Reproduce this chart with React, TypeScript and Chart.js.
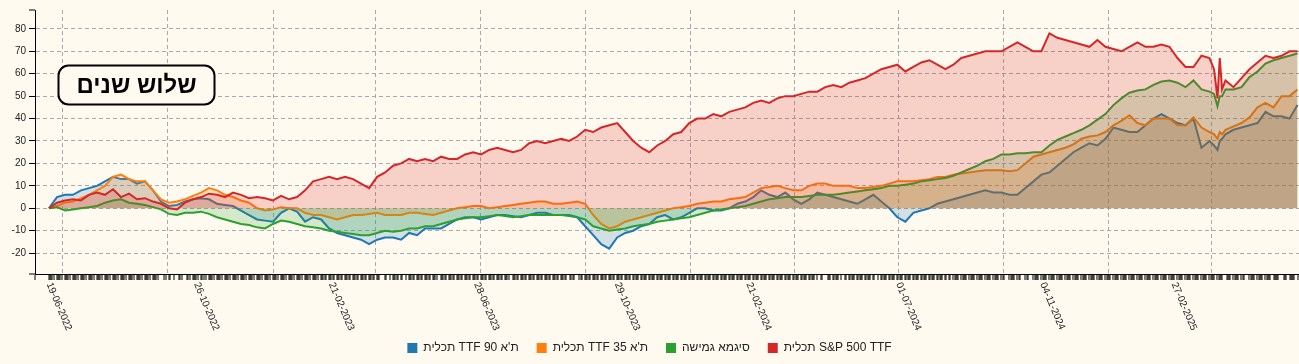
import React, { useEffect, useRef } from 'react';
import { Chart, registerables } from 'chart.js';

Chart.register(...registerables);

// ---------- data ----------
const DATES = [
  '2022-06-19','2022-06-26','2022-07-03','2022-07-10','2022-07-17','2022-07-24','2022-07-31','2022-08-07','2022-08-14','2022-08-21',
  '2022-08-28','2022-09-04','2022-09-11','2022-09-18','2022-09-25','2022-10-02','2022-10-09','2022-10-16','2022-10-23','2022-10-30',
  '2022-11-06','2022-11-13','2022-11-20','2022-11-27','2022-12-04','2022-12-11','2022-12-18','2022-12-25','2023-01-01','2023-01-08',
  '2023-01-15','2023-01-22','2023-01-29','2023-02-05','2023-02-12','2023-02-19','2023-02-26','2023-03-05','2023-03-12','2023-03-19',
  '2023-03-26','2023-04-02','2023-04-09','2023-04-16','2023-04-23','2023-04-30','2023-05-07','2023-05-14','2023-05-21','2023-05-28',
  '2023-06-04','2023-06-11','2023-06-18','2023-06-25','2023-07-02','2023-07-09','2023-07-16','2023-07-23','2023-07-30','2023-08-06',
  '2023-08-13','2023-08-20','2023-08-27','2023-09-03','2023-09-10','2023-09-17','2023-09-24','2023-10-01','2023-10-08','2023-10-15',
  '2023-10-22','2023-10-29','2023-11-05','2023-11-12','2023-11-19','2023-11-26','2023-12-03','2023-12-10','2023-12-17','2023-12-24',
  '2023-12-31','2024-01-07','2024-01-14','2024-01-21','2024-01-28','2024-02-04','2024-02-11','2024-02-18','2024-02-25','2024-03-03',
  '2024-03-10','2024-03-17','2024-03-24','2024-03-31','2024-04-07','2024-04-14','2024-04-21','2024-04-28','2024-05-05','2024-05-12',
  '2024-05-19','2024-05-26','2024-06-02','2024-06-09','2024-06-16','2024-06-23','2024-06-30','2024-07-07','2024-07-14','2024-07-21',
  '2024-07-28','2024-08-04','2024-08-11','2024-08-18','2024-08-25','2024-09-01','2024-09-08','2024-09-15','2024-09-22','2024-09-29',
  '2024-10-06','2024-10-13','2024-10-20','2024-10-27','2024-11-03','2024-11-10','2024-11-17','2024-11-24','2024-12-01','2024-12-08',
  '2024-12-15','2024-12-22','2024-12-29','2025-01-05','2025-01-12','2025-01-19','2025-01-26','2025-02-02','2025-02-09','2025-02-16',
  '2025-02-23','2025-03-02','2025-03-09','2025-03-16','2025-03-23','2025-03-30',
  '2025-04-03','2025-04-06','2025-04-08','2025-04-10',
  '2025-04-13','2025-04-20','2025-04-27','2025-05-04','2025-05-11','2025-05-18','2025-05-25','2025-06-01','2025-06-08','2025-06-15',
];

const SP500 = [
  0, 2.5, 3.5, 4, 3.5, 6, 7, 6, 8.5, 5,
  6.5, 4, 4.5, 3, 2, 0, -0.5, 2.5, 4, 5,
  6.5, 6, 5, 7, 6, 4.5, 5, 4.5, 3.5, 5.5,
  4, 5, 8, 12, 13, 14, 13, 14, 13, 11,
  9, 14, 16, 19, 20, 22, 21, 22, 21, 23,
  22, 22, 24, 25, 24, 26, 27, 26, 25, 26,
  29, 30, 29, 30, 31, 30, 32, 35, 34, 36,
  37, 38, 34, 30, 27, 25, 28, 30, 33, 34,
  38, 40, 40, 42, 41, 43, 44, 45, 47, 48,
  47, 49, 50, 50, 51, 52, 52, 54, 55, 54,
  56, 57, 58, 60, 62, 63, 64, 61, 63, 65,
  66, 64, 62, 64, 67, 68, 69, 70, 70, 70,
  72, 74, 72, 70, 70, 78, 76, 75, 74, 73,
  72, 75, 72, 71, 70, 72, 74, 72, 72, 73,
  72, 67, 63, 63, 68, 67,
  62, 49, 67, 53,
  57, 54, 58, 62, 65, 68, 67, 68, 70, 70,
];

const SIGMA = [
  0, 0.5, -1, -0.5, 0, 0.5, 1, 2.5, 3.5, 4,
  2.5, 2, 1.5, 0.5, -0.5, -2.5, -3, -2, -2, -1.5,
  -2.5, -4, -5, -6, -7, -7.5, -8.5, -9, -7, -5.5,
  -6, -7, -8, -8.5, -9, -10, -10.5, -11, -11.5, -12,
  -12, -11, -10, -10.5, -10, -9, -9, -8, -8, -7,
  -6, -5, -4.5, -4, -4, -3.5, -3, -3.5, -4, -3.5,
  -3, -3, -3, -3, -3, -3.5, -4, -5, -8, -9,
  -10, -9.5, -9, -8, -7.5, -7, -6, -5.5, -5, -4.5,
  -4, -3, -2, -1, -0.5, 0, 0.5, 1, 2, 3,
  4, 4.5, 5, 5, 5, 5.5, 6, 6, 6, 6.5,
  7, 7.5, 8, 8.5, 9, 10, 10, 10.5, 11, 12,
  12.5, 13, 13.5, 14.5, 16, 17.5, 19, 21, 22, 24,
  24, 24.5, 24.5, 25, 25, 28, 30.5, 32, 33.5, 35,
  37, 39.5, 42, 46, 49, 51.5, 52.5, 53, 55, 56.5,
  57, 56, 54, 57, 53, 52,
  51, 45.5, 50, 50,
  53, 53, 54, 58.5, 61, 64.5, 66, 67, 68, 69,
];

const TA35 = [
  0, 1, 2.5, 3, 4.5, 6, 8, 10, 14, 15,
  13, 12, 12, 8, 4, 2.5, 3, 4, 5.5, 7,
  9, 8, 6, 5, 3.5, 2.5, 0, -1, -0.5, 0.5,
  0, 0, -2, -3, -3, -4, -5, -4, -3, -3,
  -2.5, -2, -3, -3, -3, -2, -2, -2.5, -3, -2,
  -1, 0, 0.5, 1, 1, 0, 0.5, 1, 1.5, 2,
  2.5, 3, 3, 2, 2, 2.5, 3, 2, -3, -7,
  -9, -8, -6, -5, -4, -3, -2, -1, 0, 0.5,
  1, 2, 2.5, 3, 3, 4, 4.5, 5, 7, 9,
  9.5, 10, 9, 8, 8, 10, 11, 11, 10, 10,
  10, 9, 9, 9.5, 10, 11, 12, 12, 12, 12.5,
  13, 14, 14, 15, 15.5, 16, 16.5, 17, 17, 17,
  16.5, 17, 20, 23, 24, 25, 26, 27, 28.5, 31,
  32, 32.5, 34, 37, 39, 41.5, 38, 37, 40, 40,
  40, 37, 37, 40.5, 36, 34,
  33, 31, 34, 33,
  35, 36.5, 38, 40.5, 45, 47, 45, 50, 50, 53,
];

const TA90 = [
  0, 5, 6, 6, 8, 9, 10, 12, 14, 13,
  13, 11, 12, 8, 3, 1, 1.5, 3, 4, 4.5,
  4, 2, 1.5, 1, -1, -3, -5, -5.5, -6, -2,
  0, -1.5, -6, -4, -5, -9, -11, -12, -13, -14,
  -16, -14, -13, -13, -14, -11, -12, -9, -9, -9,
  -7, -5, -4, -4, -5, -4, -3, -3, -3.5, -4,
  -3, -2, -2, -3, -3, -3, -4, -8, -12, -16,
  -18, -13, -11, -10, -8, -7, -4, -3, -5, -4,
  -2, 0, 0, -1, -1, 0, 2, 3, 5, 8,
  6, 5, 7, 4, 2, 4, 7, 6, 5, 4,
  3, 2, 4, 6, 3, 0, -4, -6, -2, -1,
  0, 2, 3, 4, 5, 6, 7, 8, 7, 7,
  6, 6, 9, 12, 15, 16, 19, 22, 25, 27,
  29, 28, 31, 36, 35, 34, 34, 37, 40, 42,
  40, 38, 37, 40, 27, 30,
  28, 26, 30, 31,
  33, 35, 36, 37, 38, 43, 41, 41, 40, 46,
];

const SERIES_NAMES = ['תכלית S&P 500 TTF', 'סיגמא גמישה', "תכלית TTF 35 ת'א", "תכלית TTF 90 ת'א"];
const SERIES_COLORS = ['#d62728', '#2ca02c', '#ff7f0e', '#1f77b4'];
const SERIES_FILLS = ['rgba(214,39,40,0.2)', 'rgba(44,160,44,0.2)', 'rgba(255,127,14,0.2)', 'rgba(31,119,180,0.2)'];

const X_LABELS = ['19-06-2022', '26-10-2022', '21-02-2023', '28-06-2023', '29-10-2023', '21-02-2024', '01-07-2024', '04-11-2024', '27-02-2025'];
const QUARTER_LINES = ['2022-07-01', '2022-10-01', '2023-01-01', '2023-04-01', '2023-07-01', '2023-10-01', '2024-01-01', '2024-04-01', '2024-07-01', '2024-10-01', '2025-01-01', '2025-04-01'];
const Y_TICKS = [80, 70, 60, 50, 40, 30, 20, 10, 0, -10, -20];
const MARKET_HOLIDAYS = [
  '2022-09-25', '2022-09-26', '2022-09-27', '2022-10-04', '2022-10-05', '2022-10-09', '2022-10-10', '2022-10-16', '2022-10-17', '2022-11-01',
  '2023-04-05', '2023-04-06', '2023-04-11', '2023-04-12', '2023-04-25', '2023-04-26', '2023-05-25', '2023-07-27', '2023-09-17', '2023-09-24', '2023-09-25',
  '2024-04-22', '2024-04-23', '2024-04-28', '2024-04-29', '2024-05-13', '2024-05-14', '2024-06-11', '2024-06-12', '2024-08-13', '2024-10-02', '2024-10-03', '2024-10-16', '2024-10-17', '2024-10-23', '2024-10-24',
  '2025-04-13', '2025-04-30', '2025-05-01', '2025-06-01', '2025-06-02',
];
const TITLE = 'שלוש שנים';

// ---------- helpers ----------
const ORIGIN = Date.UTC(2022, 6, 1);
const DAY = 86400000;
const isoDay = (s: string) => {
  const [y, m, d] = s.split('-').map(Number);
  return Math.round((Date.UTC(y, m - 1, d) - ORIGIN) / DAY);
};
const dmyDay = (s: string) => {
  const [d, m, y] = s.split('-').map(Number);
  return Math.round((Date.UTC(y, m - 1, d) - ORIGIN) / DAY);
};

function tradingDays(first: number, last: number): number[] {
  const hol = new Set(MARKET_HOLIDAYS.map(isoDay));
  const out: number[] = [];
  for (let t = first; t <= last; t++) {
    const wd = new Date(ORIGIN + t * DAY).getUTCDay();
    if (wd === 5 || wd === 6) continue;
    if (hol.has(t)) continue;
    out.push(t);
  }
  return out;
}

const X_MIN = -24.2;
const X_MAX = 1081.3;
const Y_MIN = -29.3;
const Y_MAX = 88.4;
const BG = '#fffaf0';
const GRID = '#aaaaaa';

const xLabelsPlugin = {
  id: 'rotatedXLabels',
  afterDraw(chart: any) {
    const { ctx, chartArea } = chart;
    const xs = chart.scales.x;
    ctx.save();
    ctx.font = '10px Arial, "Liberation Sans", sans-serif';
    ctx.fillStyle = '#222';
    ctx.textAlign = 'left';
    ctx.textBaseline = 'middle';
    for (const lab of X_LABELS) {
      const px = xs.getPixelForValue(dmyDay(lab));
      ctx.save();
      ctx.translate(px, chartArea.bottom + 9);
      ctx.rotate((67 * Math.PI) / 180);
      ctx.fillText(lab, 0, 0);
      ctx.restore();
    }
    ctx.restore();
  },
};

const titleBoxPlugin = {
  id: 'titleBox',
  afterDraw(chart: any) {
    const { ctx } = chart;
    const x = 58.5, y = 65.5, w = 156, h = 39, r = 10;
    ctx.save();
    ctx.beginPath();
    ctx.moveTo(x + r, y);
    ctx.lineTo(x + w - r, y);
    ctx.arcTo(x + w, y, x + w, y + r, r);
    ctx.lineTo(x + w, y + h - r);
    ctx.arcTo(x + w, y + h, x + w - r, y + h, r);
    ctx.lineTo(x + r, y + h);
    ctx.arcTo(x, y + h, x, y + h - r, r);
    ctx.lineTo(x, y + r);
    ctx.arcTo(x, y, x + r, y, r);
    ctx.closePath();
    ctx.fillStyle = BG;
    ctx.fill();
    ctx.lineWidth = 2;
    ctx.strokeStyle = '#000';
    ctx.stroke();
    ctx.font = 'bold 24px Arial, "Liberation Sans", sans-serif';
    ctx.fillStyle = '#000';
    ctx.textAlign = 'center';
    ctx.textBaseline = 'middle';
    ctx.fillText(TITLE, x + w / 2, y + h / 2 + 1);
    ctx.restore();
  },
};

export default function App() {
  const ref = useRef<HTMLCanvasElement | null>(null);

  useEffect(() => {
    if (!ref.current) return;
    const xs = DATES.map(isoDay);
    const seriesValues = [SP500, SIGMA, TA35, TA90];
    const datasets = seriesValues.map((vals, k) => ({
      label: SERIES_NAMES[k],
      data: vals.map((v, i) => ({ x: xs[i], y: v })),
      borderColor: SERIES_COLORS[k],
      backgroundColor: SERIES_FILLS[k],
      borderWidth: 2,
      pointRadius: 0,
      pointHoverRadius: 0,
      tension: 0,
      fill: 'origin',
    }));

    const combTicks = tradingDays(xs[0], xs[xs.length - 1]).map((v) => ({ value: v, q: false }));
    const quarterTicks = QUARTER_LINES.map((d) => ({ value: isoDay(d), q: true }));
    const xTicks = [{ value: X_MIN, q: false }, ...combTicks, ...quarterTicks].sort((a, b) => a.value - b.value);
    const yTicks = [Y_MAX, ...Y_TICKS, Y_MIN].map((v) => ({ value: v }));

    const chart = new Chart(ref.current, {
      type: 'line',
      data: { datasets },
      options: {
        animation: false,
        responsive: false,
        devicePixelRatio: 1,
        events: [],
        layout: { padding: { top: 10, left: 0, right: 0, bottom: 0 } },
        scales: {
          x: {
            type: 'linear',
            min: X_MIN,
            max: X_MAX,
            afterBuildTicks: (s: any) => { s.ticks = xTicks.map((t) => ({ ...t })); },
            afterFit: (s: any) => { s.height = 50; },
            ticks: { display: false, autoSkip: false },
            grid: {
              lineWidth: (c: any) => (c.tick && c.tick.q ? 1 : 0),
              color: GRID,
              tickWidth: (c: any) => (c.tick && c.tick.q ? 0 : 1),
              tickColor: '#000',
              tickLength: 6,
              drawTicks: true,
            },
            border: { display: true, color: '#000', width: 1, dash: [4, 3] },
          },
          y: {
            type: 'linear',
            min: Y_MIN,
            max: Y_MAX,
            afterBuildTicks: (s: any) => { s.ticks = yTicks.map((t) => ({ ...t })); },
            afterFit: (s: any) => { s.width = 35; },
            ticks: {
              autoSkip: false,
              padding: 3,
              color: '#222',
              font: { size: 10, family: 'Arial, "Liberation Sans", sans-serif' },
              callback: (v: any) => (Y_TICKS.includes(v) ? String(v) : ''),
            },
            grid: {
              lineWidth: (c: any) => (c.tick && Y_TICKS.includes(c.tick.value) ? 1 : 0),
              color: GRID,
              tickWidth: 1,
              tickColor: '#000',
              tickLength: 6,
            },
            border: { display: true, color: '#000', width: 1, dash: [4, 3] },
          },
        },
        plugins: {
          tooltip: { enabled: false },
          title: { display: false },
          legend: {
            display: true,
            position: 'bottom',
            labels: {
              boxWidth: 10,
              boxHeight: 10,
              padding: 18,
              color: '#222',
              font: { size: 12, family: 'Arial, "Liberation Sans", sans-serif' },
              generateLabels: (ch: any) => {
                const items = Chart.defaults.plugins.legend.labels.generateLabels(ch);
                return items
                  .map((it: any) => ({ ...it, fillStyle: SERIES_COLORS[it.datasetIndex], strokeStyle: SERIES_COLORS[it.datasetIndex], lineWidth: 0 }))
                  .sort((a: any, b: any) => b.datasetIndex - a.datasetIndex);
              },
            },
          },
        },
      },
      plugins: [xLabelsPlugin, titleBoxPlugin],
    } as any);

    return () => chart.destroy();
  }, []);

  return (
    <div style={{ position: 'fixed', left: 0, top: 0, width: 1299, height: 364, background: BG }}>
      <canvas ref={ref} width={1299} height={364} style={{ display: 'block', width: 1299, height: 364 }} />
    </div>
  );
}
